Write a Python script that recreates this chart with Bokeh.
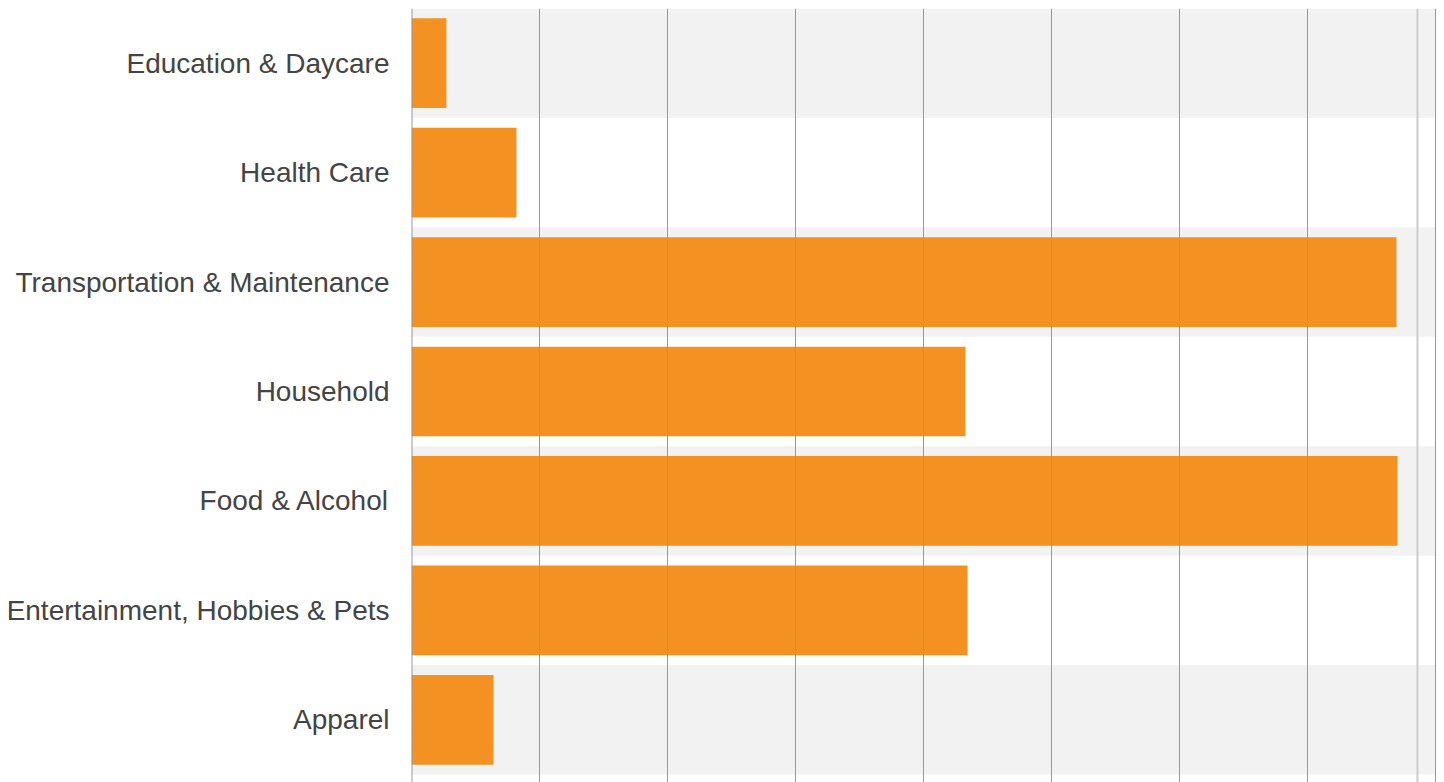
from bokeh.plotting import figure
from bokeh.models import Range1d, FixedTicker, Span, ColumnDataSource
from bokeh.embed import file_html
from bokeh.resources import INLINE

# Data (top to bottom as shown)
categories = [
    "Education & Daycare",
    "Health Care",
    "Transportation & Maintenance",
    "Household",
    "Food & Alcohol",
    "Entertainment, Hobbies & Pets",
    "Apparel",
]
values = [273, 820, 7695, 4328, 7703, 4344, 641]
band_categories = ["Education & Daycare", "Transportation & Maintenance",
                   "Food & Alcohol", "Apparel"]
grid_ticks = [0, 1000, 2000, 3000, 4000, 5000, 6000, 7000, 8000]
x_max = 8000
marker_value = 7859

ORANGE = "#f39122"
BAND = "#f2f2f2"

n = len(categories)
# position of each category: top row has highest index
ypos = {c: n - 1 - i for i, c in enumerate(categories)}

frame_w = 1025
frame_h = 774
left_border = 411
top_border = 8
row_px = 766 / n
extra_bottom = (frame_h - 766) / row_px

p = figure(
    width=left_border + frame_w + 2,
    height=top_border + frame_h,
    y_range=Range1d(-0.5 - extra_bottom, n - 0.5),
    x_range=Range1d(0, x_max * frame_w / 1024),
    output_backend="svg",
    toolbar_location=None,
    min_border_left=left_border,
    min_border_right=2,
    min_border_top=top_border,
    min_border_bottom=0,
)
p.outline_line_color = None
p.background_fill_color = "white"
p.border_fill_color = "white"

# alternating bands
band_src = ColumnDataSource(dict(y=[ypos[c] for c in band_categories],
                                 right=[x_max * 1.01] * len(band_categories)))
p.hbar(y="y", left=0, right="right", height=1.0, source=band_src,
       fill_color=BAND, line_color=None, level="image")

# bars
src = ColumnDataSource(dict(y=[ypos[c] for c in categories], v=values))
p.hbar(y="y", left=0, right="v", height=0.82, source=src,
       fill_color=ORANGE, line_color=None, level="image")

# grid
p.xaxis.visible = False
p.xgrid.ticker = FixedTicker(ticks=grid_ticks)
p.xgrid.grid_line_color = "#999999"
p.xgrid.grid_line_width = 1
p.ygrid.grid_line_color = None

# left axis line
p.add_layout(Span(location=0, dimension="height", line_color="#999999", line_width=2))
# light marker line
p.add_layout(Span(location=marker_value, dimension="height", line_color="#cccccc", line_width=2))

ya = p.yaxis[0]
ya.ticker = FixedTicker(ticks=[ypos[c] for c in categories])
ya.major_label_overrides = {ypos[c]: c for c in categories}
ya.axis_line_color = None
ya.major_tick_line_color = None
ya.minor_tick_line_color = None
ya.major_tick_out = 0
ya.major_tick_in = 0
ya.major_label_standoff = 22
ya.major_label_text_font = "Liberation Sans"
ya.major_label_text_font_size = "28px"
ya.major_label_text_color = "#444444"

open("out.html", "w").write(file_html(p, INLINE))
